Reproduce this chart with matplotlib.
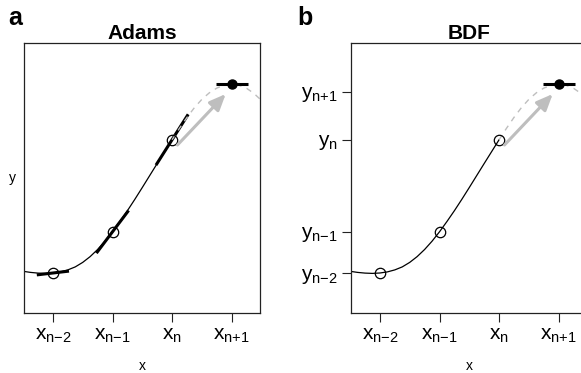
import matplotlib
matplotlib.use('Agg')
import matplotlib.pyplot as plt

plt.rcParams['font.family'] = ['Liberation Sans', 'DejaVu Sans']
plt.rcParams['mathtext.fontset'] = 'custom'
plt.rcParams['mathtext.rm'] = 'Liberation Sans'
plt.rcParams['mathtext.it'] = 'Liberation Sans'
plt.rcParams['mathtext.bf'] = 'Liberation Sans:bold'

# curve (x in step units, y in arbitrary units)
curve_x = [0.5, 0.625, 0.75, 0.875, 1.0, 1.125, 1.25, 1.375, 1.5, 1.625,
           1.75, 1.875, 2.0, 2.125, 2.25, 2.375, 2.5, 2.625, 2.75, 2.875,
           3.0, 3.125, 3.25, 3.375, 3.5, 3.625, 3.75, 3.875, 4.0, 4.125,
           4.25, 4.375, 4.5]
curve_y = [0.417, 0.406, 0.399, 0.396, 0.40, 0.411, 0.431, 0.461, 0.506, 0.564,
           0.635, 0.718, 0.812, 0.915, 1.023, 1.137, 1.255, 1.375, 1.495, 1.614,
           1.733, 1.848, 1.956, 2.054, 2.137, 2.202, 2.249, 2.277, 2.287, 2.277,
           2.247, 2.195, 2.125]

# known points and the predicted one
pts_x = [1, 2, 3]
pts_y = [0.40, 0.812, 1.733]
pred_x = 4
pred_y = 2.29

# tangent slopes used by Adams
slopes_a = [0.07, 0.79, 0.94]
pred_slope = 0.0

# arrow (step from x_n towards x_n+1)
arrow_from = (3.09, 1.68)
arrow_to = (3.90, 2.19)

x_ticks = [1, 2, 3, 4]
x_labels = ['$x_{n{-}2}$', '$x_{n{-}1}$', '$x_n$', '$x_{n{+}1}$']
y_ticks_b = [0.40, 0.812, 1.733, 2.21]
y_labels_b = ['$y_{n{-}2}$', '$y_{n{-}1}$', '$y_n$', '$y_{n{+}1}$']

GREY = '#bebebe'
HALF = 0.27  # half width of tangent segments


def base_panel(ax, title):
    n_solid = sum(1 for u in curve_x if u <= 3)
    ax.plot(curve_x[:n_solid], curve_y[:n_solid], color='black', lw=0.9)
    ax.plot(curve_x[n_solid - 1:], curve_y[n_solid - 1:], color=GREY, lw=1.0,
            dashes=(4, 4))
    ax.annotate('', xy=arrow_to, xytext=arrow_from,
                arrowprops=dict(arrowstyle='-|>,head_length=0.7,head_width=0.3',
                                color=GREY, lw=2.2, mutation_scale=14,
                                shrinkA=0, shrinkB=0))
    ax.plot(pts_x, pts_y, 'o', mfc='none', mec='black', mew=0.9, ms=7.5)
    ax.plot([pred_x - HALF, pred_x + HALF],
            [pred_y - pred_slope * HALF, pred_y + pred_slope * HALF],
            color='black', lw=2.2, solid_capstyle='butt')
    ax.plot(pred_x, pred_y, 'o', color='black', ms=6.5)
    ax.set_xlim(0.515, 4.475)
    ax.set_ylim(0, 2.70)
    ax.set_xticks(x_ticks)
    ax.set_xticklabels(x_labels, fontsize=15)
    ax.tick_params(axis='both', direction='out', length=6.5, width=0.8,
                   pad=3, color='#222222')
    ax.set_title(title, fontsize=15, fontweight='bold', pad=3)
    ax.set_xlabel('x', fontsize=10, labelpad=10)
    for s in ax.spines.values():
        s.set_linewidth(0.9)
        s.set_color('#222222')


fig = plt.figure(figsize=(5.81, 3.73), dpi=100)
ax1 = fig.add_axes([24 / 581, 60 / 373, 236 / 581, 270 / 373])
ax2 = fig.add_axes([351 / 581, 60 / 373, 236 / 581, 270 / 373])

base_panel(ax1, 'Adams')
for px, py, k in zip(pts_x, pts_y, slopes_a):
    ax1.plot([px - HALF, px + HALF], [py - k * HALF, py + k * HALF],
             color='black', lw=2.2, solid_capstyle='butt', zorder=1.9)
ax1.set_yticks([])
ax1.set_ylabel('y', fontsize=10, rotation=0, labelpad=8, va='center')

base_panel(ax2, 'BDF')
ax2.set_yticks(y_ticks_b)
ax2.set_yticklabels(y_labels_b, fontsize=15)

fig.text(8 / 581, 1 - 25 / 373, 'a', fontsize=18, fontweight='bold')
fig.text(297 / 581, 1 - 25 / 373, 'b', fontsize=18, fontweight='bold')

plt.savefig('out.png', dpi=100)
